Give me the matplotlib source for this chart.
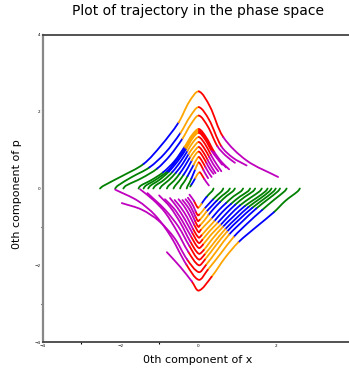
import matplotlib
matplotlib.use('Agg')
import matplotlib.pyplot as plt
from matplotlib.path import Path
from matplotlib.patches import PathPatch
import numpy as np

# Trajectories, one list of knots per trajectory.
# Colour letters give the colour of each segment between knots.
upper_x = [
    [-2.52, -2.45, -2.0, -1.4, -0.95, -0.5, -0.22, 0.02, 0.3, 0.65, 1.25, 2.06],
    [-2.13, -2.07, -1.7, -1.25, -0.85, -0.45, -0.2, 0.02, 0.28, 0.6, 0.9, 1.25],
    [-1.92, -1.86, -1.45, -1.05, -0.72, -0.4, -0.18, 0.02, 0.25, 0.5, 0.72, 0.95],
    [-1.53, -1.48, -1.2, -0.9, -0.6, -0.35, -0.15, 0.02, 0.2, 0.42, 0.6, 0.8],
    [-1.40, -1.35, -1.1, -0.8, -0.55, -0.32, -0.14, 0.02, 0.2, 0.4, 0.55, 0.72],
    [-1.28, -1.23, -1.0, -0.75, -0.5, -0.3, -0.13, 0.02, 0.18, 0.35, 0.48, 0.62],
    [-1.15, -1.1, -0.88, -0.66, -0.45, -0.27, -0.12, 0.02, 0.18, 0.33, 0.46, 0.6],
    [-0.98, -0.93, -0.76, -0.57, -0.39, -0.24, -0.1, 0.02, 0.16, 0.29, 0.4, 0.52],
    [-0.8, -0.76, -0.62, -0.47, -0.33, -0.2, -0.08, 0.02, 0.14, 0.25, 0.35, 0.45],
    [-0.63, -0.59, -0.49, -0.37, -0.26, -0.16, -0.07, 0.02, 0.12, 0.22, 0.31, 0.40],
    [-0.46, -0.43, -0.35, -0.27, -0.19, -0.11, -0.04, 0.02, 0.1, 0.19, 0.27, 0.35],
    [-0.29, -0.27, -0.22, -0.17, -0.12, -0.07, -0.02, 0.02, 0.08, 0.14, 0.2, 0.26],
    [-0.2, -0.17, -0.12, -0.07, -0.02, 0.02, 0.05, 0.1, 0.16, 0.22, 0.28],
]
upper_p = [
    [0.0, 0.06, 0.30, 0.64, 1.12, 1.72, 2.27, 2.53, 2.15, 1.34, 0.73, 0.30],
    [0.0, 0.07, 0.30, 0.55, 0.92, 1.45, 1.88, 2.12, 1.80, 1.10, 0.80, 0.60],
    [0.0, 0.07, 0.27, 0.52, 0.86, 1.30, 1.68, 1.90, 1.62, 1.10, 0.85, 0.67],
    [0.0, 0.07, 0.22, 0.42, 0.72, 1.08, 1.40, 1.55, 1.35, 0.95, 0.70, 0.50],
    [0.0, 0.07, 0.22, 0.44, 0.74, 1.06, 1.36, 1.50, 1.30, 0.95, 0.74, 0.55],
    [0.0, 0.07, 0.22, 0.44, 0.74, 1.04, 1.32, 1.45, 1.28, 0.98, 0.80, 0.62],
    [0.0, 0.07, 0.22, 0.43, 0.70, 0.98, 1.22, 1.34, 1.16, 0.88, 0.66, 0.45],
    [0.0, 0.07, 0.21, 0.41, 0.65, 0.90, 1.10, 1.21, 1.05, 0.82, 0.62, 0.45],
    [0.0, 0.07, 0.20, 0.39, 0.60, 0.82, 0.99, 1.08, 0.94, 0.74, 0.56, 0.40],
    [0.0, 0.07, 0.19, 0.36, 0.54, 0.73, 0.88, 0.96, 0.84, 0.66, 0.50, 0.38],
    [0.0, 0.07, 0.18, 0.32, 0.47, 0.62, 0.75, 0.82, 0.72, 0.56, 0.42, 0.30],
    [0.0, 0.06, 0.15, 0.26, 0.38, 0.50, 0.62, 0.68, 0.60, 0.48, 0.37, 0.27],
    [0.05, 0.10, 0.18, 0.27, 0.36, 0.41, 0.42, 0.35, 0.25, 0.16, 0.08],
]
upper_c = ['gggbboorrmm'] * 12 + ['gbbooorrmm']

lower_x = [
    [2.62, 2.57, 2.25, 1.95, 1.5, 1.04, 0.7, 0.35, 0.02, -0.16, -0.45, -0.8],
    [2.28, 2.23, 1.95, 1.65, 1.28, 0.92, 0.58, 0.25, 0.02, -0.3, -0.7, -1.1, -1.55, -2.13],
    [2.11, 2.06, 1.8, 1.5, 1.15, 0.8, 0.5, 0.2, 0.02, -0.28, -0.6, -1.0, -1.45, -1.96],
    [2.0, 1.95, 1.7, 1.4, 1.07, 0.75, 0.46, 0.18, 0.02, -0.25, -0.55, -0.85, -1.15, -1.49],
    [1.89, 1.84, 1.6, 1.3, 1.0, 0.7, 0.42, 0.17, 0.02, -0.22, -0.5, -0.85, -1.3],
    [1.79, 1.74, 1.5, 1.2, 0.92, 0.64, 0.38, 0.15, 0.02, -0.2, -0.45, -0.72, -1.0],
    [1.64, 1.59, 1.35, 1.08, 0.83, 0.58, 0.34, 0.13, 0.02, -0.18, -0.4, -0.62, -0.85],
    [1.47, 1.42, 1.2, 0.96, 0.73, 0.5, 0.29, 0.11, 0.02, -0.15, -0.34, -0.53, -0.72],
    [1.34, 1.29, 1.08, 0.85, 0.62, 0.42, 0.24, 0.09, 0.02, -0.13, -0.28, -0.44, -0.6],
    [1.16, 1.11, 0.92, 0.72, 0.52, 0.35, 0.19, 0.07, 0.02, -0.1, -0.23, -0.36, -0.5],
    [0.95, 0.9, 0.74, 0.57, 0.41, 0.27, 0.15, 0.05, 0.01, -0.08, -0.18, -0.29, -0.4],
    [0.82, 0.77, 0.63, 0.48, 0.34, 0.22, 0.12, 0.04, 0.0, -0.07, -0.15, -0.23, -0.32],
    [0.65, 0.61, 0.5, 0.38, 0.27, 0.17, 0.09, 0.03, 0.0, -0.06, -0.12, -0.19, -0.26],
    [0.4, 0.37, 0.3, 0.22, 0.15, 0.09, 0.04, 0.0, -0.05, -0.1, -0.16, -0.22],
]
lower_p = [
    [0.0, -0.07, -0.32, -0.62, -1.0, -1.40, -1.80, -2.30, -2.66, -2.42, -2.05, -1.66],
    [0.0, -0.07, -0.30, -0.56, -0.9, -1.26, -1.7, -2.12, -2.38, -1.98, -1.25, -0.7, -0.32, -0.03],
    [0.0, -0.07, -0.28, -0.52, -0.85, -1.2, -1.6, -2.0, -2.18, -1.85, -1.3, -0.85, -0.55, -0.38],
    [0.0, -0.07, -0.27, -0.5, -0.8, -1.12, -1.48, -1.85, -2.0, -1.65, -1.1, -0.62, -0.3, -0.02],
    [0.0, -0.07, -0.26, -0.48, -0.76, -1.06, -1.4, -1.72, -1.85, -1.5, -1.0, -0.55, -0.12],
    [0.0, -0.07, -0.25, -0.46, -0.72, -1.0, -1.3, -1.6, -1.7, -1.38, -0.9, -0.48, -0.18],
    [0.0, -0.07, -0.24, -0.44, -0.68, -0.95, -1.2, -1.46, -1.55, -1.25, -0.85, -0.52, -0.28],
    [0.0, -0.07, -0.22, -0.42, -0.65, -0.9, -1.12, -1.34, -1.42, -1.15, -0.8, -0.5, -0.25],
    [0.0, -0.07, -0.21, -0.4, -0.62, -0.85, -1.05, -1.22, -1.28, -1.05, -0.75, -0.5, -0.3],
    [0.0, -0.07, -0.2, -0.38, -0.58, -0.78, -0.95, -1.08, -1.14, -0.94, -0.68, -0.46, -0.28],
    [0.0, -0.07, -0.19, -0.35, -0.52, -0.69, -0.85, -0.96, -1.0, -0.84, -0.62, -0.44, -0.3],
    [0.0, -0.07, -0.18, -0.32, -0.47, -0.6, -0.73, -0.82, -0.85, -0.72, -0.55, -0.4, -0.28],
    [0.0, -0.07, -0.17, -0.29, -0.41, -0.52, -0.62, -0.68, -0.7, -0.6, -0.46, -0.34, -0.24],
    [0.0, -0.06, -0.13, -0.22, -0.31, -0.4, -0.47, -0.5, -0.43, -0.33, -0.24, -0.16],
]
lower_c = (['gggbboorrmm'] + ['gggbboorrmmmm'] * 3 + ['gggbboorrmmm'] * 9
           + ['gggbboorrmm'])

x_ticks = [-4, -2, 0, 2]
y_ticks = [-4, -2, 0, 2, 4]
palette = {'g': 'green', 'b': 'blue', 'o': 'orange', 'r': 'red', 'm': 'm'}


def draw(ax, xs, ps, cs):
    # smooth bezier pieces through the knots, one path per colour run
    pts = np.column_stack([xs, ps])
    n = len(pts)
    seg_len = np.hypot(*np.diff(pts, axis=0).T)
    tang = np.zeros_like(pts)
    for i in range(n):
        a = pts[max(i - 1, 0)]
        b = pts[min(i + 1, n - 1)]
        la = seg_len[i - 1] if i > 0 else 0
        lb = seg_len[i] if i < n - 1 else 0
        tang[i] = (b - a) / (la + lb)
    start = 0
    for i in range(1, len(cs) + 1):
        if i == len(cs) or cs[i] != cs[start]:
            verts = [pts[start]]
            codes = [Path.MOVETO]
            for k in range(start, i):
                d = seg_len[k] / 3
                verts += [pts[k] + tang[k] * d, pts[k + 1] - tang[k + 1] * d,
                          pts[k + 1]]
                codes += [Path.CURVE4] * 3
            ax.add_patch(PathPatch(Path(verts, codes), fill=False,
                                   edgecolor=palette[cs[start]], lw=1.3,
                                   capstyle='round'))
            start = i


fig = plt.figure(figsize=(3.49, 3.70), dpi=100)
ax = fig.add_axes([42.5 / 349, 28 / 370, 311 / 349, 307 / 370])

for xs, ps, cs in zip(upper_x, upper_p, upper_c):
    draw(ax, xs, ps, cs)
for xs, ps, cs in zip(lower_x, lower_p, lower_c):
    draw(ax, xs, ps, cs)

ax.set_xlim(-4, 4)
ax.set_ylim(-4, 4)
ax.set_xticks(x_ticks)
ax.set_yticks(y_ticks)
ax.set_xticks([-3, -1], minor=True)
ax.set_yticks([-3, -1], minor=True)
ax.tick_params(which='major', length=0, labelsize=3, pad=1.5)
ax.tick_params(which='minor', length=1.5, width=0.8)

for side in ['top', 'bottom', 'right']:
    ax.spines[side].set_color('#444444')
    ax.spines[side].set_linewidth(1.3)
ax.spines['left'].set_color('#888888')
ax.spines['left'].set_linewidth(1.6)

fig.text(198 / 349, 1 - 11 / 370, 'Plot of trajectory in the phase space',
         ha='center', va='center', fontsize=10)
fig.text(198 / 349, 1 - 360 / 370, '0th component of x',
         ha='center', va='center', fontsize=8)
fig.text(17 / 349, 1 - 194 / 370, '0th component of p',
         ha='center', va='center', fontsize=8, rotation=90)

fig.savefig('out.png', dpi=100)
